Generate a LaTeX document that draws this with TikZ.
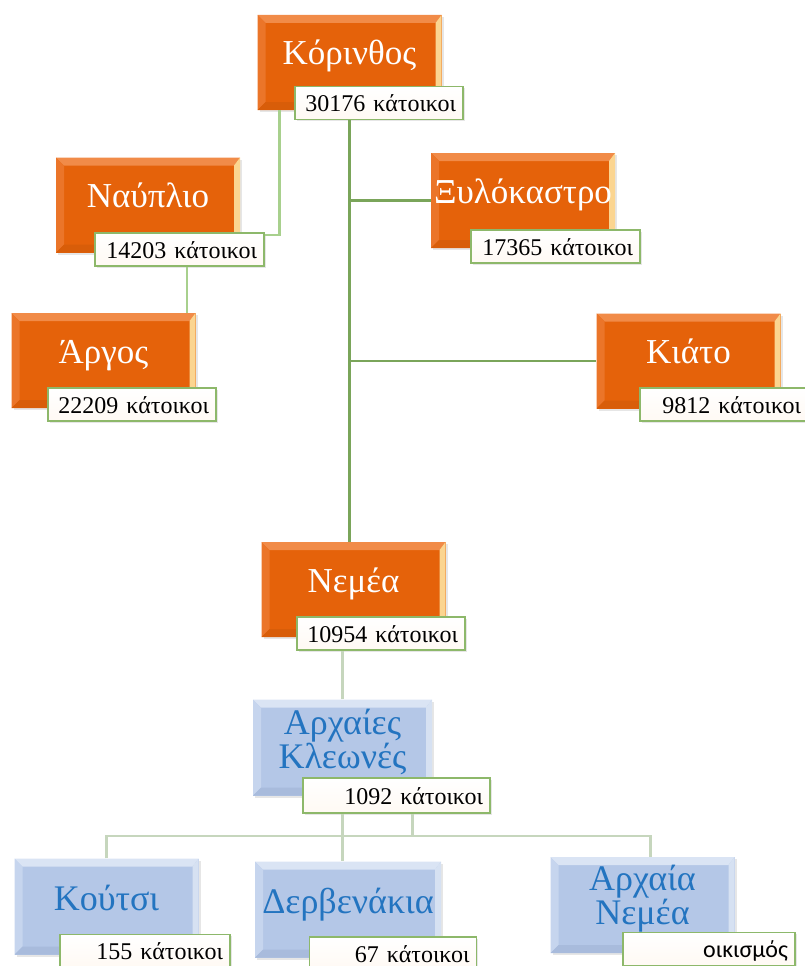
\documentclass[tikz,border=0pt]{standalone}
\usepackage{fontspec}
\setmainfont{Liberation Serif}
\newfontfamily\calfont{Carlito}
\usetikzlibrary{shadows}
\definecolor{orangefill}{HTML}{E5620A}
\definecolor{orangetop}{HTML}{F18B48}
\definecolor{orangeleft}{HTML}{EB7529}
\definecolor{orangeright}{HTML}{FBD590}
\definecolor{orangebot}{HTML}{D85D09}
\definecolor{bluefill}{HTML}{B4C7E7}
\definecolor{bluetop}{HTML}{DAE4F4}
\definecolor{blueleft}{HTML}{C6D5EE}
\definecolor{blueright}{HTML}{D6E1F2}
\definecolor{bluebot}{HTML}{A8BBDC}
\definecolor{bluetext}{HTML}{2374C0}
\definecolor{popgreen}{HTML}{8DB86A}
\definecolor{linkgreen}{HTML}{A8D08D}
\definecolor{trunkgreen}{HTML}{7AA55A}
\definecolor{palegreen}{HTML}{C6D6BD}
\newcommand{\bevel}[4]{
\fill[#1] (path picture bounding box.north west) -- (path picture bounding box.north east) -- ([shift={(-6pt,-8pt)}]path picture bounding box.north east) -- ([shift={(8pt,-8pt)}]path picture bounding box.north west) -- cycle;
\fill[#2] (path picture bounding box.north west) -- ([shift={(8pt,-8pt)}]path picture bounding box.north west) -- ([shift={(8pt,8pt)}]path picture bounding box.south west) -- (path picture bounding box.south west) -- cycle;
\fill[#3] (path picture bounding box.north east) -- ([shift={(-6pt,-8pt)}]path picture bounding box.north east) -- ([shift={(-6pt,8pt)}]path picture bounding box.south east) -- (path picture bounding box.south east) -- cycle;
\fill[#4] (path picture bounding box.south west) -- ([shift={(8pt,8pt)}]path picture bounding box.south west) -- ([shift={(-6pt,8pt)}]path picture bounding box.south east) -- (path picture bounding box.south east) -- cycle;
}
\tikzset{
townbox/.style={rectangle, fill=orangefill, minimum width=184pt, minimum height=95pt, inner sep=0pt,
  text=white, font=\fontsize{35}{38}\selectfont, text height=23pt, text depth=18pt,
  drop shadow={opacity=0.2, shadow xshift=2pt, shadow yshift=-2pt},
  path picture={\bevel{orangetop}{orangeleft}{orangeright}{orangebot}}},
villagebox/.style={rectangle, fill=bluefill, minimum width=184pt, minimum height=96pt, inner sep=0pt,
  text=bluetext, align=center, font=\fontsize{36}{30}\selectfont,
  drop shadow={opacity=0.2, shadow xshift=2pt, shadow yshift=-2pt},
  path picture={\bevel{bluetop}{blueleft}{blueright}{bluebot}}},
popbox/.style={rectangle, draw=popgreen, line width=1.6pt, top color=white, bottom color=white!85!orange!30,
  minimum height=33pt, inner xsep=7pt, inner ysep=0pt, text width=#1, align=right,
  text height=17pt, text depth=0pt, font=\fontsize{24}{25}\selectfont,
  drop shadow={opacity=0.2, shadow xshift=1.5pt, shadow yshift=-1.5pt}},
link/.style={draw=linkgreen, line width=2.4pt},
trunk/.style={draw=trunkgreen, line width=2.6pt},
twig/.style={draw=palegreen, line width=2.4pt}
}
\begin{document}
\begin{tikzpicture}[x=1pt, y=-1pt]
\useasboundingbox (0,0) rectangle (805,966);

% towns
\node[townbox] (kor) at (349.5, 62.5) {Κόρινθος};
\node[townbox] (naf) at (148, 205) {Ναύπλιο};
\node[townbox] (arg) at (103.5, 360.5) {Άργος};
\node[townbox] (xyl) at (523, 200.5) {Ξυλόκαστρο};
\node[townbox] (kia) at (688.5, 361) {Κιάτο};
\node[townbox] (nem) at (353.5, 589.5) {Νεμέα};

% villages
\node[villagebox, minimum width=179pt, text depth=18pt] (kle) at (342.5, 747.5) {Αρχαίες\\Κλεωνές};
\node[villagebox, text height=24pt, text depth=16pt] (kou) at (106.5, 906.5) {Κούτσι};
\node[villagebox, minimum width=186pt, text height=24pt, text depth=16pt] (der) at (348, 909.5) {Δερβενάκια};
\node[villagebox, text depth=20pt] (arn) at (642.5, 905) {Αρχαία\\Νεμέα};

% populations
\node[popbox=154pt] (korpop) at (379, 103) {30176 κάτοικοι};
\node[popbox=155pt] (nafpop) at (179.5, 249.5) {14203 κάτοικοι};
\node[popbox=154pt] (argpop) at (132, 404.5) {22209 κάτοικοι};
\node[popbox=155pt] (xylpop) at (555.5, 246.5) {17365 κάτοικοι};
\node[popbox=154pt] (kiapop) at (724, 404.5) {9812 κάτοικοι};
\node[popbox=154pt] (nempop) at (381, 633.5) {10954 κάτοικοι};
\node[popbox=173pt, minimum height=35pt] (klepop) at (396.5, 795.5) {1092 κάτοικοι};
\node[popbox=156pt] (koupop) at (145, 951) {155 κάτοικοι};
\node[popbox=153pt] (derpop) at (393, 953.5) {67 κάτοικοι};
\node[popbox=158pt] (arnpop) at (709, 949) {\calfont οικισμός};

% connectors
\draw[link] ([xshift=22pt]kor.south west) |- ([yshift=-3pt]nafpop.north east);
\coordinate (argtop) at ([xshift=-9pt]arg.north east);
\draw[link] (argtop) -- (argtop |- nafpop.south);

\draw[trunk] (korpop.south -| kor.south) -- (nem.north -| kor.south);
\draw[trunk] (xyl.west -| kor.south) -- (xyl.west);
\draw[trunk] (kia.west -| kor.south) -- (kia.west);

\draw[twig] (kle.north) -- (kle.north |- nempop.south);
\path (kle.south |- klepop.south) ++(0,22) coordinate (bar);
\draw[twig] (kle.south |- klepop.south) -- (bar);
\path ([xshift=16pt]klepop.south) coordinate (tick);
\draw[twig] (tick) -- (tick |- bar);
\draw[twig] (kou.north) |- (bar) -| ([xshift=8pt]arn.north);
\draw[twig] (bar) -- (bar |- der.north);
\end{tikzpicture}
\end{document}
